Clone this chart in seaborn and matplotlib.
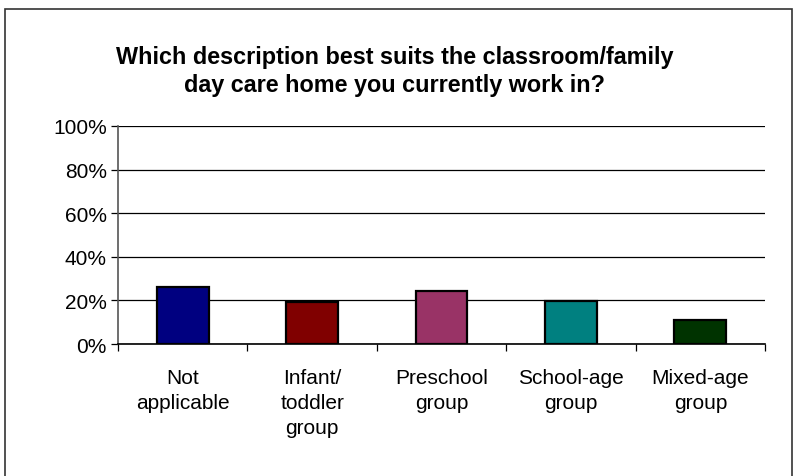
import numpy as np
import pandas as pd
import matplotlib
matplotlib.use('Agg')
import matplotlib.pyplot as plt
import seaborn as sns
from matplotlib.patches import Rectangle
from matplotlib.ticker import FixedLocator, PercentFormatter

categories = ['Not\napplicable', 'Infant/\ntoddler\ngroup', 'Preschool\ngroup',
              'School-age\ngroup', 'Mixed-age\ngroup']
values = [26.2, 19.1, 24.2, 19.5, 11.1]
colors = ['#000080', '#800000', '#993366', '#008080', '#003300']

df = pd.DataFrame({'category': categories, 'pct': values})

sns.set_style('white')
plt.rcParams['font.family'] = ['Liberation Sans', 'DejaVu Sans']
plt.rcParams['text.color'] = 'black'
plt.rcParams['xtick.color'] = 'black'
plt.rcParams['ytick.color'] = 'black'

fig = plt.figure(figsize=(7.94, 4.77), dpi=100)
ax = fig.add_axes([0.1486, 0.2767, 0.8149, 0.4571])

sns.barplot(data=df, x='category', y='pct', hue='category', palette=colors,
            legend=False, width=0.4, edgecolor='black', linewidth=1.6,
            saturation=1, ax=ax)

ax.set_ylim(0, 100)
ax.set_xlim(-0.5, len(categories) - 0.5)
ax.set_yticks(np.arange(0, 101, 20))
ax.yaxis.set_major_formatter(PercentFormatter(decimals=0))
ax.yaxis.grid(True, color='black', linewidth=0.9)
ax.set_axisbelow(True)
ax.set_xlabel('')
ax.set_ylabel('')

ax.tick_params(axis='y', which='major', length=5, width=0.9, color='black',
               direction='out', labelsize=15, pad=3, left=True)
ax.tick_params(axis='x', which='major', length=0, labelsize=15, pad=17)
for lbl in ax.get_xticklabels():
    lbl.set_linespacing(1.42)
ax.xaxis.set_minor_locator(FixedLocator(np.arange(-0.5, len(categories), 1)))
ax.tick_params(axis='x', which='minor', length=5, width=0.9, color='black',
               direction='out', bottom=True)

for side in ['top', 'right']:
    ax.spines[side].set_visible(False)
ax.spines['left'].set_color('#555555')
ax.spines['left'].set_linewidth(1.2)
ax.spines['bottom'].set_color('black')
ax.spines['bottom'].set_linewidth(1.2)

fig.text(0.497, 0.85, 'Which description best suits the classroom/family\n'
         'day care home you currently work in?',
         ha='center', va='center', fontsize=16.8, fontweight='bold',
         linespacing=1.3)

fig.patches.append(Rectangle((5 / 794, -0.05), 787 / 794, 1 - 10 / 477 + 0.05,
                             transform=fig.transFigure, fill=False,
                             edgecolor='#333333', linewidth=1.2))

fig.savefig('out.png', dpi=100)
